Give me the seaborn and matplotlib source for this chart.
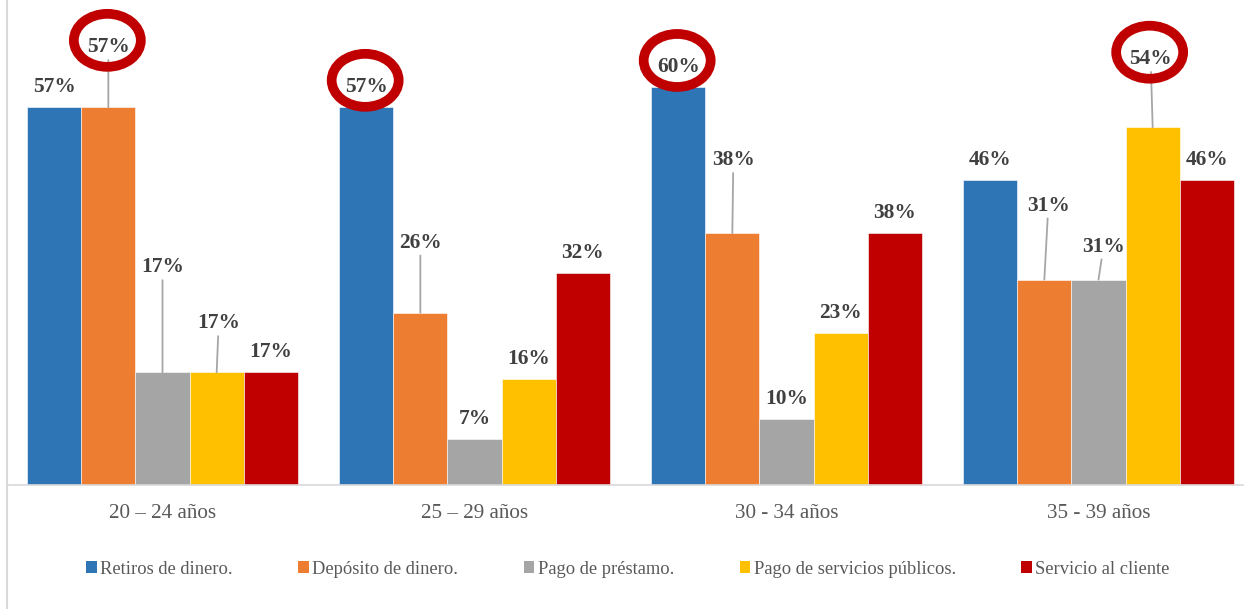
import matplotlib
matplotlib.use("Agg")
import matplotlib.pyplot as plt
import matplotlib.transforms as mtransforms
from matplotlib.patches import Ellipse, Patch
from matplotlib.lines import Line2D
import pandas as pd
import seaborn as sns

# ---- data -------------------------------------------------------------
grupos = ["20 – 24 años", "25 – 29 años", "30 - 34 años", "35 - 39 años"]
servicios = ["Retiros de dinero.", "Depósito de dinero.", "Pago de préstamo.",
             "Pago de servicios públicos.", "Servicio al cliente"]
retiros = [57, 57, 60, 46]
deposito = [57, 26, 38, 31]
prestamo = [17, 7, 10, 31]
servicios_publicos = [17, 16, 23, 54]
servicio_cliente = [17, 32, 38, 46]

colores = ["#2E75B6", "#ED7D31", "#A5A5A5", "#FFC000", "#C00000"]

# (series index, group index) of the circled values
destacados = [(1, 0), (0, 1), (0, 2), (3, 3)]

# label offsets in pixels (dx, dy) from the bar top; the rest use the default
DEFAULT_OFFSET = (0, 20)
desplazamientos = {
    (1, 0): (0, 60), (2, 0): (0, 105), (3, 0): (2, 49),
    (1, 1): (0, 70),
    (1, 2): (1, 73),
    (1, 3): (4, 74), (2, 3): (5, 33), (3, 3): (-2, 68),
}

series = [retiros, deposito, prestamo, servicios_publicos, servicio_cliente]
df = pd.DataFrame(
    [{"grupo": g, "servicio": s, "valor": v}
     for s, vals in zip(servicios, series)
     for g, v in zip(grupos, vals)]
)

# ---- figure -----------------------------------------------------------
plt.rcParams["font.family"] = ["Liberation Serif", "DejaVu Serif"]

W, H = 1244, 609
fig = plt.figure(figsize=(W / 100, H / 100), dpi=100)
ax = fig.add_axes([6.5 / W, 124 / H, 1248 / W, 485 / H])

sns.barplot(data=df, x="grupo", y="valor", hue="servicio",
            order=grupos, hue_order=servicios, palette=colores,
            width=0.868, gap=0, saturation=1, legend=False,
            edgecolor="white", linewidth=0.4, ax=ax)

ax.set_xlim(-0.5, 3.5)
ax.set_ylim(0, 73.2)
ax.set_xlabel("")
ax.set_ylabel("")
ax.set_yticks([])
for side in ("top", "right", "left"):
    ax.spines[side].set_visible(False)
ax.spines["bottom"].set_color("#D9D9D9")
ax.spines["bottom"].set_linewidth(1.2)
ax.tick_params(axis="x", length=0, pad=14, labelsize=15.2, labelcolor="#595959")

# ---- value labels, leader lines and highlight rings --------------------
for i, cont in enumerate(ax.containers):
    for j, bar in enumerate(cont):
        x = bar.get_x() + bar.get_width() / 2
        h = bar.get_height()
        dx, dy = desplazamientos.get((i, j), DEFAULT_OFFSET)
        leader = dy > 30
        ax.annotate(
            f"{h:.0f}%", xy=(x, h), xytext=(dx, dy), textcoords="offset pixels",
            ha="center", va="center", fontsize=15.4, fontweight="bold",
            color="#404040", zorder=5, annotation_clip=False,
            arrowprops=dict(arrowstyle="-", color="#A6A6A6", lw=1.3,
                            shrinkA=0, shrinkB=0) if leader else None,
        )
        if (i, j) in destacados:
            trans = fig.dpi_scale_trans + mtransforms.ScaledTranslation(
                x, h, ax.transData)
            ring = Ellipse(((dx - 1) / 100, (dy + 7) / 100), 0.67, 0.53,
                           transform=trans, facecolor="none",
                           edgecolor="#C00000", lw=7, zorder=6,
                           clip_on=False)
            ax.add_artist(ring)

# ---- legend -----------------------------------------------------------
handles = [Patch(facecolor=c, edgecolor="none") for c in colores]
fig.legend(handles, servicios, loc="center",
           bbox_to_anchor=(628 / W, 40 / H), ncol=5, frameon=False,
           prop={"family": "Liberation Serif", "size": 13.3},
           labelcolor="#595959", handlelength=0.55, handleheight=0.55,
           handletextpad=0.2, columnspacing=3.55, borderaxespad=0)

# chart-area border on the left
fig.add_artist(Line2D([7.5 / W, 7.5 / W], [0, 1], transform=fig.transFigure,
                      color="#D9D9D9", lw=1.5))

fig.savefig("out.png", dpi=100)
